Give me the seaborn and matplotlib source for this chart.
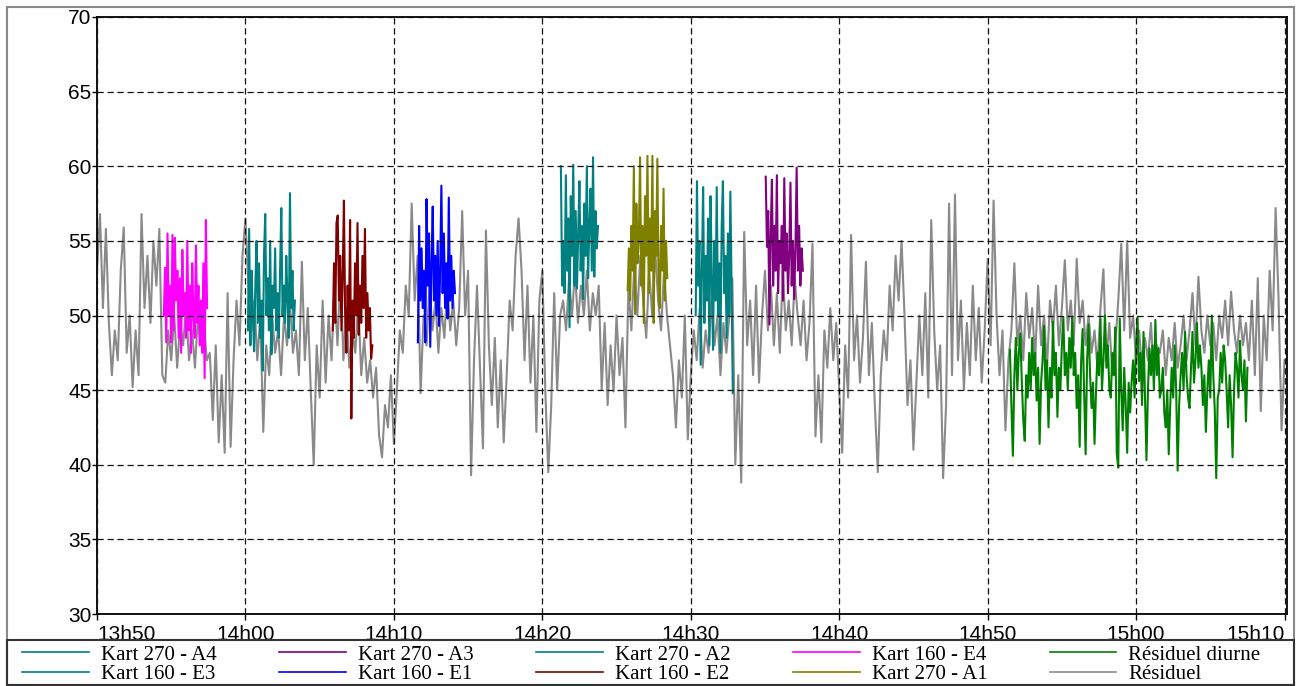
import numpy as np
import pandas as pd
import matplotlib
matplotlib.use("Agg")
import matplotlib.pyplot as plt
from matplotlib.lines import Line2D
from matplotlib.patches import Rectangle
from matplotlib.font_manager import FontProperties
import seaborn as sns

# ---------------------------------------------------------------------------
# Sound level records (dB(A)), time origin 13h50, offsets and steps in seconds
# ---------------------------------------------------------------------------
T0_MIN = 13 * 60 + 50

residuel_start, residuel_step = 0, 12
residuel = [
    53, 56.8, 50.5, 55.8, 49.5, 46, 49, 47, 53, 55.9, 47.5, 50, 45.2, 49, 46,
    56.8, 50.5, 54, 49.5, 55, 52, 55.8, 46,
    45.5, 49, 47, 50, 46.5, 49.5, 48, 50.5, 47, 49, 46.5, 50, 48, 49.5, 47,
    47.5, 43, 48, 41.5, 46, 40.8, 51.5, 41.2, 47, 51, 48, 54, 56.5,
    52, 49, 51, 47, 50, 42.2, 48, 46, 50, 47.5, 49, 46, 50, 48, 51, 47.5, 49,
    46, 53.6, 47, 50.5, 45, 40, 48, 44.5, 51, 45.5, 50, 47,
    52, 48, 53, 47, 50.5, 46.5, 49, 47.5, 51, 46, 48.5, 45.5, 47,
    44.5, 46.5, 42, 40.5, 44, 42.5, 46, 41.4, 45, 49, 47.5, 52, 50, 57.5, 51, 54,
    44.8, 50, 48, 52, 49, 51, 47.5, 50.5, 48.5, 52, 49, 51, 48,
    50.5, 57, 50, 53, 39.3, 47, 52, 46.5, 41.1, 55.7, 48, 44,
    48.5, 42.5, 47, 41.5, 46, 51, 49, 54, 56.5, 53,
    47, 52, 45.5, 50, 42.2, 51, 53, 45, 39.5, 44, 51.5, 45, 50,
    51, 49, 52.5, 50, 53, 49.5, 52, 50, 53, 49, 51.5, 50, 52,
    45, 49.5, 44, 48, 44.9, 50, 46, 48.5, 42.5,
    52, 49, 53.5, 50, 54, 51, 48.5, 53, 50, 54.5, 51, 49, 53, 50,
    48, 46, 42.5, 47, 44.5, 50, 41.7, 46,
    49, 47, 50.5, 46.5, 49, 47.5, 51, 48, 50, 46, 49.5, 47.5, 50, 52.5,
    40, 46, 38.8, 55.6, 48, 51, 46, 52, 45.5, 50, 53,
    49, 52, 48, 51.5, 47.5, 53, 49, 51, 48, 52.5, 50, 48, 51,
    47, 49.5, 54.8, 41.9, 46, 41.5, 49, 46.5, 50.5, 47, 49.5, 45, 40.8, 48,
    44.5, 55.4, 47, 50, 45.5, 48.5, 53.6, 46, 49.5, 44, 39.5, 46, 49, 47,
    52, 49, 54, 51, 55, 50, 44, 47, 41, 45.5, 50, 46, 51.5, 44.5, 56.4,
    49, 45, 48, 39.1, 44, 57.5, 46, 58.1,
    47, 51, 45, 49.5, 46, 52, 47, 50.5, 45.5, 49, 53.8, 48, 57.7, 50,
    46, 49, 42.3, 47,
    49, 53.5, 48, 50, 47, 51.5, 48.5, 50.5, 47, 52, 48, 50, 46.5, 51, 49, 52,
    48, 50.5, 53.7, 49, 51, 48, 53.8, 49.5, 51, 48,
    50, 47.5, 49, 46.5, 50.5, 53.1, 47, 49.5, 46, 48, 51, 54.8, 49, 55, 48.5,
    50, 47, 49, 46.5, 48.5, 47, 49.5, 46, 48, 47.5, 49, 46, 48.5, 47, 49.5,
    46.5, 48, 50, 47, 49, 51.5, 48, 52.6, 49, 47.5, 50, 48, 49.5, 47, 50,
    48.5, 51, 48, 51.6, 49, 47.5, 50, 48, 49.5, 47,
    51, 46, 52.5, 43.6, 50, 47, 53, 49, 57.2, 51, 42.3, 47,
]

kart160_e4_start, kart160_e4_step = 270, 5
kart160_e4 = [
    50, 53.2, 48.2, 55.5, 50, 52, 48.2, 55.4, 49, 55.2, 51, 53, 48.5, 52.5,
    47.5, 54.4, 50, 51.5, 48.5, 55, 49, 52, 47.5, 53.5, 50, 48.5, 54.7, 49.5,
    52, 48, 51, 47.5, 53.5, 45.8, 56.4, 50.5,
]

kart160_e3_start, kart160_e3_step = 610, 5
kart160_e3 = [
    49, 55.8, 48, 53, 50, 47.6, 52, 55, 49.5, 53.5, 48.5, 51, 46.3, 54, 56.8,
    50, 52.5, 49, 55, 47.4, 52, 50.5, 54.5, 49, 51.5, 48.5, 53, 57.2, 50, 52,
    49.5, 54, 51, 48.5, 58.2, 50.5, 53, 49, 51,
]

kart160_e2_start, kart160_e2_step = 953, 5
kart160_e2 = [
    49, 53.5, 49.5, 56.2, 56.7, 51, 54, 49, 52.5, 57.7, 50, 47.5, 52, 49,
    56.4, 43.1, 51, 48.5, 53.5, 50, 56.2, 48.7, 52, 49.5, 54, 50.5, 55.8,
    48.5, 51.5, 49, 50.5, 47.1, 48,
]

kart160_e1_start, kart160_e1_step = 1297, 5
kart160_e1 = [
    48.2, 56, 51, 54.5, 50.5, 53, 48.2, 57.8, 52, 55.5, 47.9, 53.5, 57.3, 51,
    54, 50, 55, 49.3, 53, 58.7, 51.5, 55.5, 50.5, 53.5, 49.8, 57.9, 51, 54,
    50.5, 53, 51.5,
]

kart270_a4_start, kart270_a4_step = 1875, 5
kart270_a4 = [
    60, 52, 55, 51.5, 59.4, 53, 56.5, 49.2, 58, 54, 60.1, 52, 57, 51.8, 55.5,
    59, 53, 56, 51.1, 57.5, 54, 60, 52.5, 56, 58.5, 53, 60.6, 52.6, 57, 54.5,
    56,
]

kart270_a1_start, kart270_a1_step = 2145, 5
kart270_a1 = [
    51.7, 54.5, 51, 56, 53, 60, 50.1, 57.5, 53.5, 55, 60.6, 52, 56, 49.5, 58,
    54, 60.7, 51.5, 56.5, 53, 60.7, 49.5, 57, 54, 60.5, 52, 50.5, 56, 53,
    58.5, 51, 55, 52.5,
]

kart270_a2_start, kart270_a2_step = 2420, 5
kart270_a2 = [
    50, 59, 52, 55, 46.7, 53, 58.6, 49.5, 54, 51, 56.5, 48, 58, 52.5, 47.7,
    55, 51, 58.6, 50, 53.5, 47.5, 56, 59, 51.5, 54, 48.5, 55.5, 50, 58.3, 52,
    44.8,
]

kart270_a3_start, kart270_a3_step = 2703, 5
kart270_a3 = [
    59.3, 54.6, 57, 49.4, 55.5, 59.1, 52, 56, 53, 59.4, 51.5, 55, 53.5, 56,
    51, 59.2, 53, 55.5, 51.5, 54, 58.9, 52, 55, 51.1, 54.5, 59.9, 53, 56, 52,
    54.5, 53,
]

diurne_start, diurne_step = 3690, 6
residuel_diurne = [
    47.7, 44, 40.6, 46, 48.5, 45, 47.5, 48.8, 45.6, 43,
    41.6, 46, 44.5, 47.5, 45, 48.5, 46, 47.5, 44.3, 46.5,
    41.4, 45.5, 47, 49.3, 45, 47, 42.5, 46.5, 44.5, 49.6,
    46, 47.5, 43.2, 46.5, 45, 48, 49.9, 46, 47.5, 45,
    48.5, 46.5, 49.9, 46, 47.5, 43.8, 46, 41.2, 47, 49.1,
    45, 40.7,
    47, 49.4, 46, 43.8, 45.5, 41.4, 44.9, 47.5, 46, 49.8,
    45, 47, 50, 46.5, 48, 45, 44.5, 47.5, 46, 49.2,
    40.7, 39.8, 49.8, 45, 42.3, 46.5, 44, 40.8, 45.5, 43.5,
    45.6, 47, 44.5, 48, 49.9, 45.6, 47.5, 44, 48.9, 44.5,
    40.3, 45, 47.8, 46, 48, 45, 49.7, 46, 47.8, 44.5,
    45, 46.5, 43.5, 42.5, 45, 40.7, 44, 46.5, 44.5, 48,
    45, 39.6, 44, 46, 47.5, 45, 48.9, 46, 44.5, 43.8,
    46.5, 48.9, 45.5, 47, 49.5, 46.5, 48, 46.5, 44, 46,
    42.2, 45, 47, 44.5, 50, 46, 43.7, 39.1, 44.5, 45,
    47.5, 45.5, 48, 47, 45, 42.5, 46, 44, 40.5, 45,
    47.5, 46.5, 44.5, 48.3, 46, 45, 47, 42.9, 46.5,
]

tick_labels = ["13h50", "14h00", "14h10", "14h20", "14h30",
               "14h40", "14h50", "15h00", "15h10"]
y_ticks = [30, 35, 40, 45, 50, 55, 60, 65, 70]

# label, colour, start offset, step, values  (drawing order: background first)
series = [
    ("Résiduel", "#8a8a8a", residuel_start, residuel_step, residuel),
    ("Kart 160 - E4", "#ff00ff", kart160_e4_start, kart160_e4_step, kart160_e4),
    ("Kart 160 - E3", "#008080", kart160_e3_start, kart160_e3_step, kart160_e3),
    ("Kart 160 - E2", "#800000", kart160_e2_start, kart160_e2_step, kart160_e2),
    ("Kart 160 - E1", "#0000ff", kart160_e1_start, kart160_e1_step, kart160_e1),
    ("Kart 270 - A4", "#008080", kart270_a4_start, kart270_a4_step, kart270_a4),
    ("Kart 270 - A1", "#808000", kart270_a1_start, kart270_a1_step, kart270_a1),
    ("Kart 270 - A2", "#008080", kart270_a2_start, kart270_a2_step, kart270_a2),
    ("Kart 270 - A3", "#800080", kart270_a3_start, kart270_a3_step, kart270_a3),
    ("Résiduel diurne", "#008000", diurne_start, diurne_step, residuel_diurne),
]

frames = []
for label, _, start, step, vals in series:
    secs = start + step * np.arange(len(vals))
    frames.append(pd.DataFrame({"minute": T0_MIN + secs / 60.0,
                                "level": vals, "source": label}))
df = pd.concat(frames, ignore_index=True)
palette = {label: col for label, col, *_ in series}
order = [s[0] for s in series]

# ---------------------------------------------------------------------------
W, H = 1302, 686
fig = plt.figure(figsize=(W / 100, H / 100), dpi=100)
fig.patch.set_facecolor("white")
ax = fig.add_axes([97 / W, 1 - 614 / H, (1287 - 97) / W, (614 - 17) / H])

sns.lineplot(data=df, x="minute", y="level", hue="source", hue_order=order,
             palette=palette, estimator=None, sort=False, linewidth=1.5,
             legend=False, ax=ax)

ax.set_xlim(T0_MIN, T0_MIN + 4810 / 60.0)
ax.set_ylim(30, 70)
ax.set_xlabel("")
ax.set_ylabel("")

xt = [T0_MIN + 10 * k for k in range(len(tick_labels))]
tick_font = FontProperties(family="Liberation Sans", size=15)
ax.set_xticks(xt)
ax.set_xticklabels(tick_labels, fontproperties=tick_font)
ax.set_yticks(y_ticks)
ax.set_yticklabels([str(v) for v in y_ticks], fontproperties=tick_font)
xl = ax.get_xticklabels()
xl[0].set_horizontalalignment("left")
xl[-1].set_horizontalalignment("right")

ax.tick_params(axis="x", direction="out", length=4.5, width=1, pad=3.5,
               colors="black")
ax.tick_params(axis="y", direction="out", length=3.5, width=1, pad=0.5,
               colors="black")

ax.set_axisbelow(False)
ax.grid(True, color="#111111", linestyle=(0, (5, 3)), linewidth=0.9)
for sp in ax.spines.values():
    sp.set_color("black")
    sp.set_linewidth(1.3)

# outer frame and legend box
fig.patches.append(Rectangle((7 / W, 1 / H), 1287 / W, 678 / H,
                             transform=fig.transFigure, fill=False,
                             edgecolor="#8a8a8a", linewidth=1.5, zorder=0))
fig.patches.append(Rectangle((7 / W, 1 / H), 1287 / W, 45 / H,
                             transform=fig.transFigure, fill=False,
                             edgecolor="#333333", linewidth=1.5, zorder=1))

legend_order = ["Kart 270 - A4", "Kart 160 - E3", "Kart 270 - A3",
                "Kart 160 - E1", "Kart 270 - A2", "Kart 160 - E2",
                "Kart 160 - E4", "Kart 270 - A1", "Résiduel diurne",
                "Résiduel"]
handles = [Line2D([], [], color=palette[n], linewidth=1.2) for n in legend_order]
fig.legend(handles, legend_order, loc="upper left",
           bbox_to_anchor=(22 / W, 1 - 645 / H), bbox_transform=fig.transFigure,
           ncol=5, frameon=False, prop=FontProperties(family="Liberation Serif",
                                                      size=15),
           handlelength=3.2, handletextpad=0.58, columnspacing=3.0,
           labelspacing=0.0, borderpad=0.0, borderaxespad=0.0)

fig.savefig("out.png", dpi=100, facecolor="white")
